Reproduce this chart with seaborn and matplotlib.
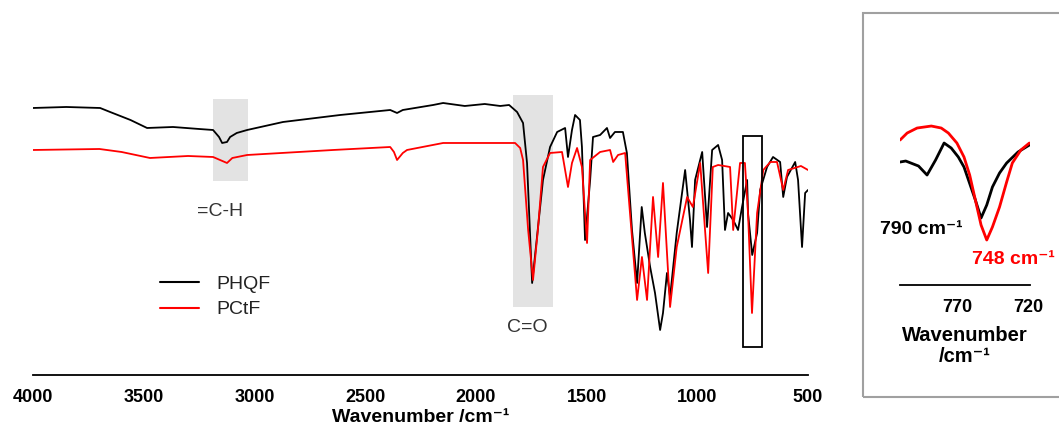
import numpy as np
import pandas as pd
import matplotlib.pyplot as plt
from matplotlib.patches import Rectangle
import seaborn as sns

# --- FTIR spectra (transmittance, arbitrary units) ---
wn_phqf = [4000, 3850, 3697, 3652, 3560, 3485, 3368, 3250, 3187, 3160, 3146, 3124, 3110, 3080,
           3033, 2871, 2613, 2387, 2356, 2330, 2193, 2148, 2050, 1960, 1890, 1850, 1814, 1787,
           1769, 1746, 1724, 1697, 1665, 1633, 1597, 1584, 1566, 1552, 1530, 1521, 1507, 1484,
           1471, 1439, 1408, 1394, 1372, 1336, 1318, 1295, 1272, 1251, 1237, 1213, 1191, 1168,
           1155, 1137, 1123, 1093, 1055, 1033, 1024, 1010, 978, 956, 933, 906, 888, 875, 861,
           838, 816, 798, 775, 771, 752, 730, 716, 685, 658, 626, 612, 595, 558, 545, 527, 513, 500]
t_phqf = [267, 268, 267, 263, 255, 247, 248, 246, 245, 238, 232, 233, 238, 242,
          245, 253, 260, 265, 262, 265, 270, 272, 269, 271, 269, 270, 263, 252,
          212, 92, 138, 195, 228, 243, 247, 218, 245, 260, 255, 228, 135, 195,
          238, 240, 247, 237, 243, 243, 222, 145, 92, 168, 142, 108, 82, 45,
          62, 102, 78, 142, 205, 155, 128, 195, 223, 148, 225, 230, 215, 145, 162,
          155, 145, 168, 195, 162, 120, 142, 185, 208, 218, 213, 178, 198, 213, 195, 128, 182, 185]

wn_pctf = [4000, 3700, 3600, 3472, 3300, 3187, 3124, 3100, 3033, 2800, 2645, 2387, 2370, 2356,
           2330, 2311, 2148, 1890, 1823, 1800, 1787, 1764, 1742, 1720, 1697, 1665, 1611, 1584,
           1566, 1543, 1521, 1498, 1484, 1439, 1394, 1380, 1358, 1326, 1304, 1272, 1250, 1227,
           1200, 1177, 1155, 1123, 1093, 1046, 1020, 987, 951, 930, 906, 852, 838, 807, 785,
           771, 753, 730, 702, 670, 640, 612, 590, 532, 500]
t_pctf = [225, 226, 223, 217, 219, 218, 212, 217, 220, 223, 225, 228, 223, 215,
          222, 225, 232, 232, 232, 227, 215, 145, 95, 145, 208, 222, 223, 188,
          212, 227, 208, 132, 215, 223, 225, 213, 220, 222, 162, 75, 118, 75,
          178, 118, 192, 68, 128, 178, 168, 212, 102, 208, 210, 208, 145, 212, 212,
          162, 62, 162, 205, 213, 213, 185, 205, 209, 205]

# --- zoomed 810-720 cm-1 region ---
wn_zoom_phqf = [810, 806, 797, 791, 785, 779, 774, 769, 765, 757, 753, 749, 745, 740, 735, 727, 719]
t_zoom_phqf = [123, 124, 119, 110, 125, 142, 137, 128, 118, 85, 67, 80, 98, 112, 122, 133, 140]
wn_zoom_pctf = [810, 805, 798, 788, 781, 776, 770, 765, 761, 757, 753, 749, 745, 740, 735, 731, 725, 719]
t_zoom_pctf = [145, 152, 157, 159, 157, 152, 142, 128, 110, 85, 60, 45, 58, 78, 103, 122, 135, 142]

series = ["PHQF", "PCtF"]
colors = {"PHQF": "black", "PCtF": "red"}

df = pd.concat([
    pd.DataFrame({"wavenumber": wn_phqf, "T": t_phqf, "sample": "PHQF"}),
    pd.DataFrame({"wavenumber": wn_pctf, "T": t_pctf, "sample": "PCtF"}),
])
dz = pd.concat([
    pd.DataFrame({"wavenumber": wn_zoom_phqf, "T": t_zoom_phqf, "sample": "PHQF"}),
    pd.DataFrame({"wavenumber": wn_zoom_pctf, "T": t_zoom_pctf, "sample": "PCtF"}),
])

sns.set_style("white")
plt.rcParams["font.family"] = ["Liberation Sans", "DejaVu Sans"]
plt.rcParams["text.color"] = "black"
plt.rcParams["axes.labelcolor"] = "black"
plt.rcParams["xtick.color"] = "black"

fig = plt.figure(figsize=(10.59, 4.37), dpi=100)
ax = fig.add_axes([0.0312, 0.1419, 0.7318, 0.6865])
axz = fig.add_axes([0.8499, 0.3478, 0.1228, 0.4233])

# shaded bands and box
ax.add_patch(Rectangle((3187, 194), 3029 - 3187, 82, color="#e3e3e3", lw=0, zorder=0))
ax.add_patch(Rectangle((1832, 68), 1652 - 1832, 212, color="#e3e3e3", lw=0, zorder=0))
ax.add_patch(Rectangle((793, 28), 707 - 793, 211, fill=False, ec="black", lw=1.3, zorder=3))

sns.lineplot(data=df, x="wavenumber", y="T", hue="sample", hue_order=series, palette=colors,
             estimator=None, sort=False, lw=1.3, ax=ax)
ax.set_xlim(4000, 500)
ax.set_ylim(0, 300)
ax.set_xticks([4000, 3500, 3000, 2500, 2000, 1500, 1000, 500])
ax.set_yticks([])
for s in ["top", "right", "left"]:
    ax.spines[s].set_visible(False)
ax.spines["bottom"].set_color("black")
ax.spines["bottom"].set_linewidth(1.3)
ax.tick_params(axis="x", direction="out", length=4, width=1.2, color="black", pad=6,
               labelsize=13, labelcolor="black")
for lbl in ax.get_xticklabels():
    lbl.set_fontweight("bold")
ax.set_xlabel("Wavenumber /cm\u207b\u00b9", fontsize=14, fontweight="bold", labelpad=2)
ax.set_ylabel("")

ax.text(3155, 163, "=C-H", fontsize=14, color="#333333", ha="center", va="center")
ax.text(1769, 47, "C=O", fontsize=14, color="#333333", ha="center", va="center")

leg = ax.legend(loc="center left", bbox_to_anchor=(0.164, 0.26), frameon=False, fontsize=14,
                handlelength=2.0, handletextpad=0.9, labelspacing=0.4, borderpad=0,
                borderaxespad=0)
for line in leg.get_lines():
    line.set_linewidth(1.5)
for t in leg.get_texts():
    t.set_color("#222222")

# inset
sns.lineplot(data=dz, x="wavenumber", y="T", hue="sample", hue_order=series, palette=colors,
             estimator=None, sort=False, lw=2, ax=axz, legend=False)
axz.set_xlim(810, 718.5)
axz.set_ylim(0, 185)
axz.set_xticks([770, 720])
axz.set_yticks([])
for s in ["top", "right", "left"]:
    axz.spines[s].set_visible(False)
axz.spines["bottom"].set_color("black")
axz.spines["bottom"].set_linewidth(1.3)
axz.tick_params(axis="x", direction="out", length=4, width=1.2, color="black", pad=6,
                labelsize=13, labelcolor="black")
for lbl in axz.get_xticklabels():
    lbl.set_fontweight("bold")
axz.set_xlabel("Wavenumber\n/cm\u207b\u00b9", fontsize=14.5, fontweight="bold", labelpad=7,
               linespacing=1.15)
axz.set_ylabel("")
axz.text(824, 56, "790 cm\u207b\u00b9", fontsize=14, fontweight="bold", color="black",
         ha="left", va="center", clip_on=False)
axz.text(759.5, 26, "748 cm\u207b\u00b9", fontsize=14, fontweight="bold", color="red",
         ha="left", va="center", clip_on=False)

fig.patches.append(Rectangle((0.8145, 0.0915), 0.3, 0.8785, transform=fig.transFigure,
                             fill=False, ec="#a0a0a0", lw=1.5))

fig.savefig("out.png", dpi=100)
